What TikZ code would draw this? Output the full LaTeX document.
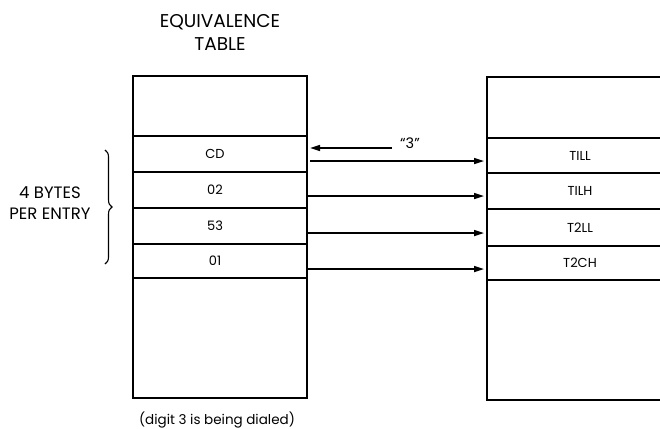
\documentclass[tikz,border=0pt]{standalone}
\usepackage{fontspec}
\setmainfont{Poppins}
\usetikzlibrary{positioning}
\usetikzlibrary{arrows.meta}
\usetikzlibrary{decorations.pathreplacing}

\begin{document}
\begin{tikzpicture}[
        x=1pt, y=-1pt,
        node distance=0pt,
        cell/.style={draw, rectangle, line width=1.4pt, minimum width=174pt,
                     inner sep=0pt, outer sep=0pt, anchor=north,
                     font=\fontsize{13}{14}\selectfont},
        rcell/.style={cell, minimum width=186pt},
        label/.style={align=center, font=\fontsize{16.5}{21}\selectfont},
        arrow/.style={-{Triangle[length=10pt,width=6pt]}, line width=1.6pt}
    ]
        \clip (0,0) rectangle (660,428);
        \useasboundingbox (0,0) rectangle (660,428);

        % equivalence table
        \node[align=center, font=\fontsize{18.5}{23}\selectfont] (title) at (220,32) {EQUIVALENCE\\TABLE};
        \node[cell, anchor=north west, minimum height=60pt] (ltop) at (133,76) {};
        \node[cell, minimum height=36pt, below=of ltop] (lcd) {\hspace*{-10pt}CD};
        \node[cell, minimum height=36pt, below=of lcd] (lzt) {\hspace*{-10pt}02};
        \node[cell, minimum height=36pt, below=of lzt] (lft) {\hspace*{-10pt}53};
        \node[cell, minimum height=34pt, below=of lft] (lzo) {\hspace*{-10pt}01};
        \node[cell, minimum height=120pt, below=of lzo] (lbot) {};
        \node[font=\fontsize{13.5}{15}\selectfont] (note) at (217,420) {(digit 3 is being dialed)};

        % target table
        \node[rcell, anchor=north west, minimum height=61pt] (rtop) at (487,77) {};
        \node[rcell, minimum height=35pt, below=of rtop] (till) {TILL};
        \node[rcell, minimum height=36pt, below=of till] (tilh) {TILH};
        \node[rcell, minimum height=37pt, below=of tilh] (ttll) {T2LL};
        \node[rcell, minimum height=34pt, below=of ttll] (ttch) {T2CH};
        \node[rcell, minimum height=120pt, below=of ttch] (rbot) {};

        % entry size
        \node[label] (entry) at (50,203) {4 BYTES\\PER ENTRY};
        \draw[decorate, decoration={brace, amplitude=7pt}, line width=1.1pt]
            (105,150) -- (105,264);

        % dialed digit
        \node[anchor=base west, inner sep=0pt, font=\fontsize{14.5}{16}\selectfont] (three) at (400,148) {``3''};
        \draw[arrow, shorten >=3pt] ([xshift=-8pt]three.base west) -- (three.base west -| lcd.east);

        \draw[arrow, shorten <=3pt, shorten >=3pt] ([yshift=11pt]lcd.south east) -- ([yshift=11pt]lcd.south east -| till.west);
        \draw[arrow, shorten >=3pt] ([yshift=12pt]lzt.south east) -- ([yshift=12pt]lzt.south east -| tilh.west);
        \draw[arrow, shorten <=1pt, shorten >=3pt] ([yshift=11pt]lft.south east) -- ([yshift=11pt]lft.south east -| ttll.west);
        \draw[arrow, shorten >=3pt] ([yshift=9pt]lzo.south east) -- ([yshift=9pt]lzo.south east -| ttch.west);
    \end{tikzpicture}
\end{document}
